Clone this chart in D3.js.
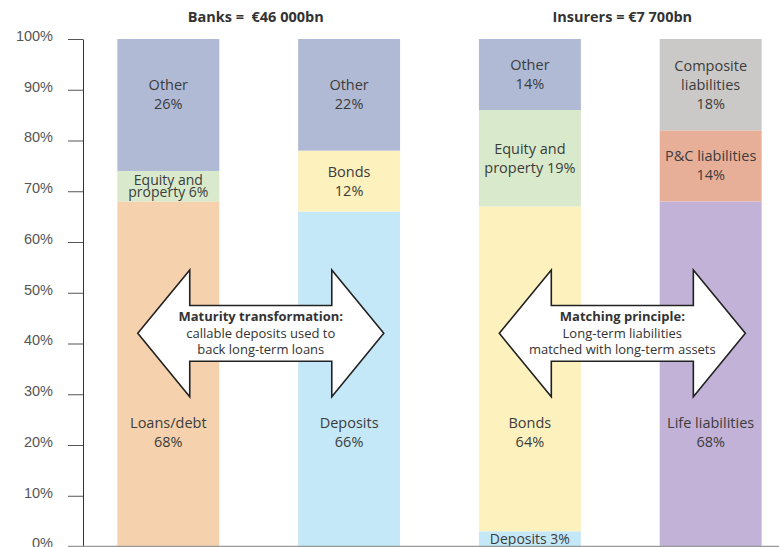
<!DOCTYPE html>
<html>
<head>
<meta charset="utf-8">
<script src="https://cdn.jsdelivr.net/npm/d3@7"></script>
<style>
  body { margin: 0; background: #fff; }
  svg { font-family: "Open Sans", "Noto Sans", sans-serif; }
  .axis text { fill: #555; font-size: 14.5px; }
  .axis .tick line { stroke: #555; }
  .axis path { stroke: #333; }
</style>
</head>
<body>
<div class="chart"></div>
<script>
// bars, left to right
var categories = ["Banks assets", "Banks liabilities", "Insurers assets", "Insurers liabilities"];

// segments of each bar, bottom to top (% of total), "%v" is where the value goes
var banksAssetLabels = ["Loans/debt\n%v", "Equity and\nproperty %v", "Other\n%v"];
var banksAssetValues = [68, 6, 26];
var banksLiabLabels  = ["Deposits\n%v", "Bonds\n%v", "Other\n%v"];
var banksLiabValues  = [66, 12, 22];
var insAssetLabels   = ["Deposits %v", "Bonds\n%v", "Equity and\nproperty %v", "Other\n%v"];
var insAssetValues   = [3, 64, 19, 14];
var insLiabLabels    = ["Life liabilities\n%v", "P&C liabilities\n%v", "Composite\nliabilities\n%v"];
var insLiabValues    = [68, 14, 18];

var groupTitles = ["Banks =\u00a0 €46 000bn", "Insurers = €7 700bn"];
var arrowTexts = [
  ["Maturity transformation:", "callable deposits used to", "back long-term loans"],
  ["Matching principle:", "Long-term liabilities", "matched with long-term assets"]
];
var yTicks = [0, 10, 20, 30, 40, 50, 60, 70, 80, 90, 100];

var colours = {
  "Other": "#b0bad4",
  "Equity": "#d8eacb",
  "Loans": "#f5d2ad",
  "Bonds": "#fdf1be",
  "Deposits": "#c5e8f8",
  "Composite": "#cbc9c7",
  "P&C": "#e8af98",
  "Life": "#c2b2d7"
};

var allLabels = [banksAssetLabels, banksLiabLabels, insAssetLabels, insLiabLabels];
var allValues = [banksAssetValues, banksLiabValues, insAssetValues, insLiabValues];

// stack the segments
var segments = [];
categories.forEach(function (c, i) {
  var base = 0;
  allValues[i].forEach(function (v, j) {
    segments.push({
      cat: c, label: allLabels[i][j], value: v, y0: base, y1: base + v,
      last: j == allValues[i].length - 1
    });
    base += v;
  });
});

function colourOf(label) {
  return colours[label.split(/[ \/\n]/)[0]];
}

var svg = d3.select(".chart").append("svg").attr("width", 779).attr("height", 547),
    margin = {top: 39, left: 83},
    x = d3.scaleBand().domain(categories).range([83, 796]).paddingInner(0.436).paddingOuter(0.19),
    y = d3.scaleLinear().domain([0, 100]).range([546.5, 39]);

// bars
svg.selectAll(".seg")
  .data(segments)
  .enter().append("rect")
    .attr("class", "seg")
    .attr("x", d => x(d.cat))
    .attr("y", d => y(d.y1))
    .attr("width", x.bandwidth())
    .attr("height", d => y(d.y0) - y(d.y1))
    .attr("fill", d => colourOf(d.label));

// segment labels
segments.forEach(function (d) {
  var lines = d.label.replace("%v", d.value + "%").split("\n");
  var h = y(d.y0) - y(d.y1);
  var lh = h < 40 ? 12 : 19;
  var mid;
  if (d.value > 50) mid = 22.5;          // big segments get their label below the arrows
  else if (d.last) mid = 100 - Math.min(d.value, 22) / 2;
  else mid = (d.y0 + d.y1) / 2;
  var cy = y(mid);
  var t = svg.append("text")
    .attr("text-anchor", "middle")
    .style("font-size", h < 40 ? "14px" : "14.5px")
    .style("fill", "#3c3c3c");
  lines.forEach(function (l, k) {
    t.append("tspan")
      .attr("x", x(d.cat) + x.bandwidth() / 2)
      .attr("y", cy + (k - (lines.length - 1) / 2) * lh + 5)
      .text(l);
  });
});

// axis
var yAxis = svg.append("g")
  .attr("class", "axis")
  .attr("transform", `translate(${margin.left},0)`)
  .call(d3.axisLeft(y).tickValues(yTicks).tickSize(15).tickSizeOuter(0).tickPadding(15)
        .tickFormat(d => d + "%"));
yAxis.selectAll(".tick text").attr("dy", "0.1em");

svg.append("line")
  .attr("x1", 68).attr("x2", 779)
  .attr("y1", y(0)).attr("y2", y(0))
  .attr("stroke", "#999").attr("stroke-width", 1.5);

// titles
[0, 1].forEach(function (g) {
  var a = categories[g * 2], b = categories[g * 2 + 1];
  svg.append("text")
    .attr("x", (x(a) + x(b) + x.bandwidth()) / 2 + g * 5 - 3)
    .attr("y", 22)
    .attr("text-anchor", "middle")
    .style("font-size", "14.5px")
    .style("font-weight", "bold")
    .style("fill", "#333")
    .text(groupTitles[g]);
});

// double-headed arrows between the bars of each group
[0, 1].forEach(function (g) {
  var a = categories[g * 2], b = categories[g * 2 + 1], bw = x.bandwidth();
  var xl = x(a) + 0.2 * bw, xr = x(b) + bw - 0.16 * bw, head = 0.51 * bw;
  var yc = y(42), yh1 = y(54.5), yh2 = y(29.5), yb1 = y(47.5), yb2 = y(36.5);
  var pts = [
    [xl, yc], [xl + head, yh1], [xl + head, yb1], [xr - head, yb1], [xr - head, yh1],
    [xr, yc], [xr - head, yh2], [xr - head, yb2], [xl + head, yb2], [xl + head, yh2]
  ];
  svg.append("path")
    .attr("d", d3.line()(pts) + "Z")
    .attr("fill", "#fff")
    .attr("stroke", "#222")
    .attr("stroke-width", 1.6)
    .attr("stroke-linejoin", "miter");
  var cx = (xl + xr) / 2;
  arrowTexts[g].forEach(function (l, k) {
    svg.append("text")
      .attr("x", cx)
      .attr("y", yc + (k - 1) * 16.5 + 4.5)
      .attr("text-anchor", "middle")
      .style("font-size", "13px")
      .style("font-weight", k == 0 ? "bold" : "normal")
      .style("fill", "#333")
      .text(l);
  });
});
</script>
</body>
</html>
